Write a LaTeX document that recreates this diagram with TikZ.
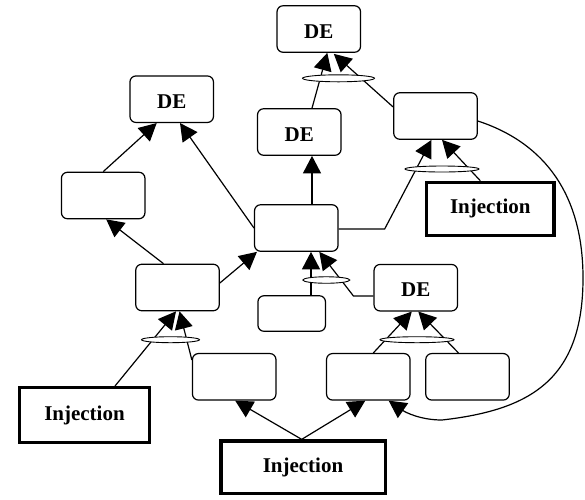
\documentclass[tikz,border=0pt]{standalone}
\usepackage{fontspec}
\setmainfont{Liberation Serif}
\usetikzlibrary{arrows.meta,shapes.geometric,calc,backgrounds}
\begin{document}
\begin{tikzpicture}[x=1pt,y=-1pt,
  box/.style={draw,line width=1.2pt,rounded corners=6pt,fill=white,minimum width=83.5pt,minimum height=46.5pt,inner sep=0pt,text height=18pt,text depth=0pt,font=\fontsize{21}{25}\selectfont\bfseries},
  inj/.style={draw,line width=3.2pt,fill=white,inner sep=0pt,font=\fontsize{21}{25}\selectfont\bfseries},
  arr/.style={line width=1.2pt,-{Triangle[length=17.5pt,width=18pt]}},
  andell/.style={draw,ellipse,line width=0.9pt,fill=white,inner sep=0pt}]
\useasboundingbox (0,0) rectangle (585,499);
% boxes
\node[box] (T) at (318.8,29) {DE};
\node[box] (M) at (299.3,132) {DE};
\node[box] (R1) at (435.5,116) {};
\node[box] (C) at (296.3,228) {};
\node[box,minimum width=67.5pt,minimum height=35.5pt] (S) at (291.7,313.5) {};
\node[box] (DR) at (415.8,287.7) {DE};
\node[box] (DL) at (171.7,99.2) {DE};
\node[box] (L1) at (103.2,195.5) {};
\node[box] (L2) at (177.5,287.5) {};
\node[box] (B1) at (234.2,376.8) {};
\node[box] (B2) at (368.3,376.8) {};
\node[box] (B3) at (467.5,376.8) {};
\node[inj,minimum width=129.8pt,minimum height=54.8pt] (IL) at (84.5,415) {Injection};
\node[inj,minimum width=127.5pt,minimum height=52.8pt] (IR) at (490.3,208.7) {Injection};
\node[inj,minimum width=164.2pt,minimum height=52.5pt] (IB) at (303,467.2) {Injection};
% connectors
\begin{scope}[on background layer]
\draw[arr] ($(M.north)+(12.7,0)$) -- ($(T.south)+(8.5,0)$);
\draw[arr] ($(R1.west)+(0,-9)$) -- ($(T.south)+(15,1)$);
\draw[arr] ($(C.north)+(15.7,0)$) -- ($(M.south)+(12.7,0)$);
\draw[arr] (C.west) -- ($(DL.south)+(8.3,0)$);
\draw[arr] ($(C.east)+(0,1)$) -- ++(46,0) -- ($(R1.south)+(-4,0)$);
\draw[arr] ($(IR.north)+(-10,0)$) -- ($(R1.south)+(6.5,0)$);
\draw[arr] ($(L2.east)+(0,-4.5)$) -- ($(C.south west)+(3,0)$);
\draw[arr] ($(S.north)+(19.3,0)$) -- ($(C.south)+(14.7,0)$);
\draw[arr] ($(DR.west)+(0,8.3)$) -- ++(-20,0) -- ($(C.south)+(23,0)$);
\draw[arr] ($(L2.north)+(-14,0)$) -- ($(L1.south)+(3,0)$);
\draw[arr] (L1.north) -- ($(DL.south)+(-15,0)$);
\draw[arr] ($(IL.north)+(30.5,0)$) -- ($(L2.south)+(-1.5,0)$);
\draw[arr] ($(B1.north west)+(0,7)$) -- ($(L2.south)+(2,0)$);
\draw[arr] ($(B2.north)+(5,0)$) -- ($(DR.south)+(-4,0)$);
\draw[arr] ($(B3.north)+(-9,0)$) -- ($(DR.south)+(2.5,0)$);
\draw[arr] ($(IB.north)+(-1.3,0)$) -- ($(B1.south)+(1,0)$);
\draw[arr] ($(IB.north)+(-1.3,0)$) -- ($(B2.south)+(-3,0)$);
\draw[arr] ($(R1.east)+(0,5)$) .. controls (545,143) and (583,195) .. (583,278)
  .. controls (583,380) and (530,410) .. (442,420)
  .. controls (420,420) and (405,412) .. ($(B2.south east)+(-22,0)$);
\end{scope}
% AND ellipses
\node[andell,minimum width=72pt,minimum height=7pt] (A1) at (338.5,78.3) {};
\node[andell,minimum width=74pt,minimum height=6pt] (A2) at (442,169) {};
\node[andell,minimum width=47pt,minimum height=6.5pt] (A3) at (326.3,280) {};
\node[andell,minimum width=58pt,minimum height=6pt] (A4) at (170.5,339.7) {};
\node[andell,minimum width=74pt,minimum height=6pt] (A5) at (417,339.7) {};
\end{tikzpicture}
\end{document}
